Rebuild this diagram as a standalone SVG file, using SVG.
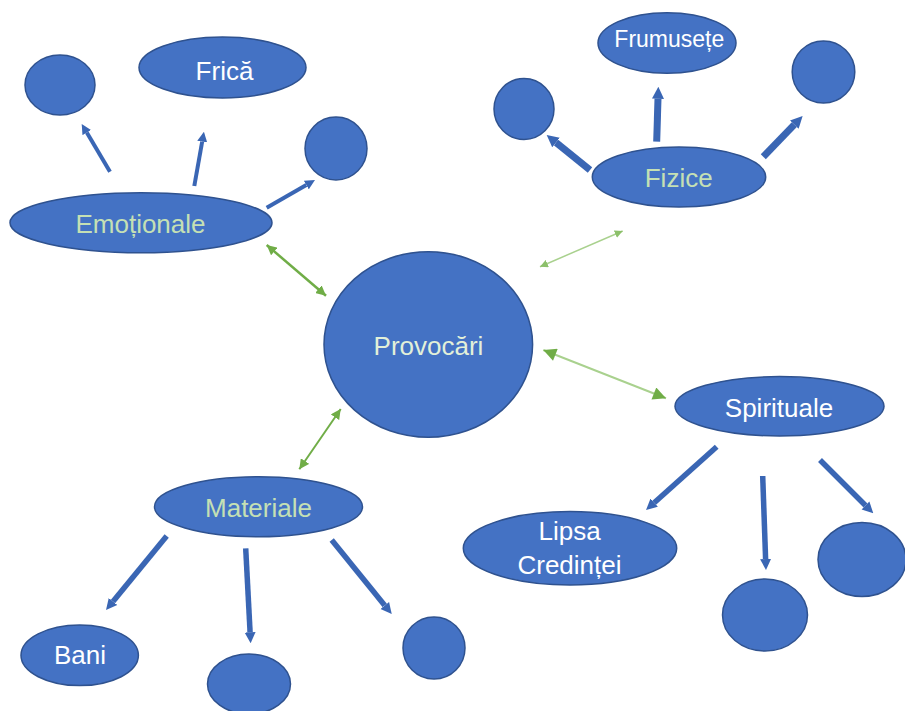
<svg xmlns="http://www.w3.org/2000/svg" width="905" height="711" viewBox="0 0 905 711">
<style>
.n{fill:#4472C4;stroke:#2F528F;stroke-width:1.5}
.t{font-family:"Liberation Sans",Arial,sans-serif;font-size:26px;text-anchor:middle;fill:#FFFFFF}
.g{fill:#C5E0B4}
.p{fill:#E2F0D9}
.b{stroke:#3A66B4;fill:none}
.gr{stroke:#70AD47;fill:none}
</style>
<defs>
<marker id="hs" viewBox="0 0 10 10" refX="0" refY="5" markerUnits="userSpaceOnUse" markerWidth="10" markerHeight="11" orient="auto"><path d="M0,0L10,5L0,10z" fill="#3A66B4"/></marker>
<marker id="hm" viewBox="0 0 10 10" refX="0" refY="5" markerUnits="userSpaceOnUse" markerWidth="11" markerHeight="14" orient="auto"><path d="M0,0L10,5L0,10z" fill="#3A66B4"/></marker>
<marker id="hl" viewBox="0 0 10 10" refX="0" refY="5" markerUnits="userSpaceOnUse" markerWidth="12" markerHeight="16" orient="auto"><path d="M0,0L10,5L0,10z" fill="#3A66B4"/></marker>
<marker id="gh" viewBox="0 0 10 10" refX="10" refY="5" markerUnits="userSpaceOnUse" markerWidth="10" markerHeight="10" orient="auto-start-reverse"><path d="M0,0L10,5L0,10z" fill="#70AD47"/></marker>
<marker id="ghs" viewBox="0 0 10 10" refX="10" refY="5" markerUnits="userSpaceOnUse" markerWidth="8" markerHeight="8" orient="auto-start-reverse"><path d="M0,0L10,5L0,10z" fill="#8CC06A"/></marker>
<marker id="ghl" viewBox="0 0 10 10" refX="10" refY="5" markerUnits="userSpaceOnUse" markerWidth="15" markerHeight="13" orient="auto-start-reverse"><path d="M0,0L10,5L0,10z" fill="#70AD47"/></marker>
</defs>
<g id="connectors">
<line class="b" x1="110" y1="171.7" x2="86.8" y2="132.6" stroke-width="4" marker-end="url(#hs)"/>
<line class="b" x1="194.3" y1="186" x2="202.2" y2="141.5" stroke-width="4" marker-end="url(#hs)"/>
<line class="b" x1="266.7" y1="207.7" x2="306.3" y2="185" stroke-width="4" marker-end="url(#hs)"/>
<line class="b" x1="656.7" y1="141.7" x2="658" y2="98.7" stroke-width="7" marker-end="url(#hl)"/>
<line class="b" x1="590" y1="170" x2="556" y2="142.5" stroke-width="7" marker-end="url(#hl)"/>
<line class="b" x1="763.3" y1="156.7" x2="794.3" y2="124.6" stroke-width="7" marker-end="url(#hl)"/>
<line class="b" x1="166.7" y1="536" x2="113" y2="601.5" stroke-width="5.5" marker-end="url(#hm)"/>
<line class="b" x1="245.7" y1="548.3" x2="250.1" y2="632.3" stroke-width="5.5" marker-end="url(#hm)"/>
<line class="b" x1="331.7" y1="540" x2="384.8" y2="605.5" stroke-width="5.5" marker-end="url(#hm)"/>
<line class="b" x1="716.7" y1="446.7" x2="654.2" y2="502.7" stroke-width="5.5" marker-end="url(#hm)"/>
<line class="b" x1="762.7" y1="476" x2="765.6" y2="559" stroke-width="5.5" marker-end="url(#hm)"/>
<line class="b" x1="820" y1="460" x2="865.5" y2="505.5" stroke-width="5.5" marker-end="url(#hm)"/>
<line class="gr" x1="266.7" y1="245" x2="326" y2="295.7" stroke-width="2.5" marker-start="url(#gh)" marker-end="url(#gh)"/>
<line x1="540" y1="266.7" x2="622.7" y2="231" stroke="#A9D18E" stroke-width="1.5" marker-start="url(#ghs)" marker-end="url(#ghs)"/>
<line x1="543.3" y1="350" x2="666" y2="398.3" stroke="#A9D18E" stroke-width="2" marker-start="url(#ghl)" marker-end="url(#ghl)"/>
<line class="gr" x1="340.7" y1="409" x2="299.3" y2="469.3" stroke-width="2" marker-start="url(#gh)" marker-end="url(#gh)"/>
</g>
<g id="provocari"><ellipse class="n" cx="428.3" cy="344.5" rx="104.3" ry="92.8"/><text class="t p" x="428.5" y="355">Provocări</text></g>
<g id="emotionale"><ellipse class="n" cx="141" cy="222.7" rx="131" ry="30"/><text class="t g" x="140.5" y="232.5">Emoționale</text></g>
<g id="frica"><ellipse class="n" cx="222.5" cy="67.5" rx="83.5" ry="30.5"/><text class="t" x="224.5" y="80">Frică</text></g>
<g id="emo-c1"><ellipse class="n" cx="60" cy="85" rx="35" ry="30"/></g>
<g id="emo-c2"><ellipse class="n" cx="336" cy="148.5" rx="31" ry="31.5"/></g>
<g id="fizice"><ellipse class="n" cx="679" cy="177" rx="86.7" ry="30"/><text class="t g" x="678.7" y="186.5">Fizice</text></g>
<g id="frumusete"><ellipse class="n" cx="667" cy="43" rx="69" ry="30.3"/><text class="t" x="669.3" y="46.7" style="font-size:23px">Frumusețe</text></g>
<g id="fiz-c1"><ellipse class="n" cx="524" cy="109" rx="30" ry="30.5"/></g>
<g id="fiz-c2"><ellipse class="n" cx="823.5" cy="72" rx="31.3" ry="31"/></g>
<g id="materiale"><ellipse class="n" cx="258.5" cy="506.7" rx="104" ry="30"/><text class="t g" x="258.5" y="517">Materiale</text></g>
<g id="bani"><ellipse class="n" cx="79.7" cy="655.3" rx="58.7" ry="30.3"/><text class="t" x="80" y="664">Bani</text></g>
<g id="mat-c1"><ellipse class="n" cx="249" cy="684" rx="41.5" ry="30"/></g>
<g id="mat-c2"><ellipse class="n" cx="434" cy="648" rx="31" ry="31"/></g>
<g id="spirituale"><ellipse class="n" cx="779.5" cy="406.3" rx="104.5" ry="29.7"/><text class="t" x="779" y="416.5">Spirituale</text></g>
<g id="lipsa"><ellipse class="n" cx="570" cy="548.3" rx="106.7" ry="36.7"/><text class="t" x="569.7" y="540">Lipsa</text><text class="t" x="569.5" y="574">Credinței</text></g>
<g id="spi-c1"><ellipse class="n" cx="765" cy="615" rx="42.5" ry="36"/></g>
<g id="spi-c2"><ellipse class="n" cx="862" cy="559.5" rx="44" ry="37"/></g>
</svg>
